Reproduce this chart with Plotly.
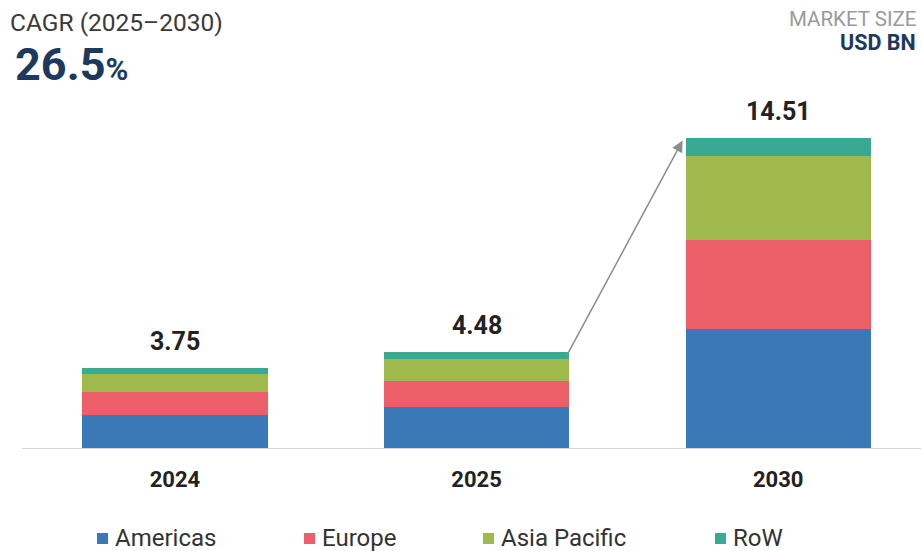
import plotly.graph_objects as go

# ---- data ----
years = ["2024", "2025", "2030"]
regions = ["Americas", "Europe", "Asia Pacific", "RoW"]
americas = [1.56, 1.92, 5.60]
europe = [1.05, 1.20, 4.17]
asia_pacific = [0.86, 1.05, 3.91]
row = [0.28, 0.31, 0.83]
totals = [3.75, 4.48, 14.51]
cagr_label = "CAGR (2025–2030)"
cagr_value = "26.5"

series = [americas, europe, asia_pacific, row]
colors = ["#3a78b8", "#ec5f69", "#a0b94c", "#3aa993"]

# ---- layout geometry ----
W, H = 921, 551
L, R, T, B = 22, 0, 0, 103
PW, PH = W - L - R, H - T - B
BAR_W = 0.614

def px_x(px):
    return (px - L) / PW

def px_y(py):
    return (H - B - py) / PH

fig = go.Figure()
for name, vals, col in zip(regions, series, colors):
    fig.add_trace(go.Bar(
        x=years, y=vals, name=name, marker=dict(color=col, line=dict(width=0)),
        width=BAR_W, showlegend=False, hoverinfo="skip"))

annotations = []
# value labels
for i, tot in enumerate(totals):
    annotations.append(dict(
        x=i, y=tot, xref="x", yref="y", text=f"<b>{tot:.2f}</b>", showarrow=False,
        xanchor="center", yanchor="bottom", yshift=10,
        font=dict(family="Roboto", size=25, color="#222222")))

# growth arrow from 2025 bar top-right to 2030 bar top-left
annotations.append(dict(
    x=2 - BAR_W / 2 - 0.01, y=totals[2] - 0.1, xref="x", yref="y",
    ax=1 + BAR_W / 2 - 0.01, ay=totals[1] - 0.2, axref="x", ayref="y",
    text="", showarrow=True, arrowhead=2, arrowsize=1.5, arrowwidth=1.5,
    arrowcolor="#8c8c8c", standoff=0, startstandoff=0))

# header texts
annotations.append(dict(
    x=px_x(8), y=px_y(23), xref="paper", yref="paper", text=cagr_label,
    showarrow=False, xanchor="left", yanchor="middle",
    font=dict(family="Roboto", size=24.5, color="#3a3a3a")))
annotations.append(dict(
    x=px_x(13), y=px_y(64), xref="paper", yref="paper",
    text=f"<b>{cagr_value}</b><span style='font-size:31px;font-weight:bold'>%</span>",
    showarrow=False, xanchor="left", yanchor="middle",
    font=dict(family="Roboto", size=45, color="#1d3a5c")))
annotations.append(dict(
    x=px_x(918), y=px_y(19), xref="paper", yref="paper", text="MARKET SIZE",
    showarrow=False, xanchor="right", yanchor="middle",
    font=dict(family="Roboto", size=20.5, color="#9a9a9a")))
annotations.append(dict(
    x=px_x(918), y=px_y(42), xref="paper", yref="paper", text="<b>USD BN</b>",
    showarrow=False, xanchor="right", yanchor="middle",
    font=dict(family="Roboto", size=21.5, color="#1d3a5c")))

# custom legend
legend_sq_x = [97, 304, 483, 715]
shapes = []
for name, col, sx in zip(regions, colors, legend_sq_x):
    shapes.append(dict(
        type="rect", xref="paper", yref="paper",
        x0=px_x(sx), x1=px_x(sx + 11), y0=px_y(544), y1=px_y(533),
        fillcolor=col, line=dict(width=0)))
    annotations.append(dict(
        x=px_x(sx + 16), y=px_y(538), xref="paper", yref="paper", text=name,
        showarrow=False, xanchor="left", yanchor="middle",
        font=dict(family="Roboto", size=24, color="#333333")))

fig.update_layout(
    width=W, height=H, barmode="stack",
    margin=dict(l=L, r=R, t=T, b=B, autoexpand=False),
    paper_bgcolor="white", plot_bgcolor="white",
    xaxis=dict(type="category", range=[-(175 - L) / 301.6, (W - 175) / 301.6],
               showline=True, linecolor="#d6d6d6", linewidth=1,
               showgrid=False, zeroline=False, ticks="",
               ticklabelstandoff=12,
               tickfont=dict(family="Roboto", size=22, color="#222222", weight="bold")),
    yaxis=dict(range=[0, 21.0], visible=False, showgrid=False, zeroline=False),
    annotations=annotations, shapes=shapes, showlegend=False,
)

fig.write_html(
    "out.html",
    config={"displayModeBar": False, "staticPlot": True},
    post_script="document.body.style.margin='0';document.body.style.padding='0';"
                "document.documentElement.style.overflow='hidden';")
